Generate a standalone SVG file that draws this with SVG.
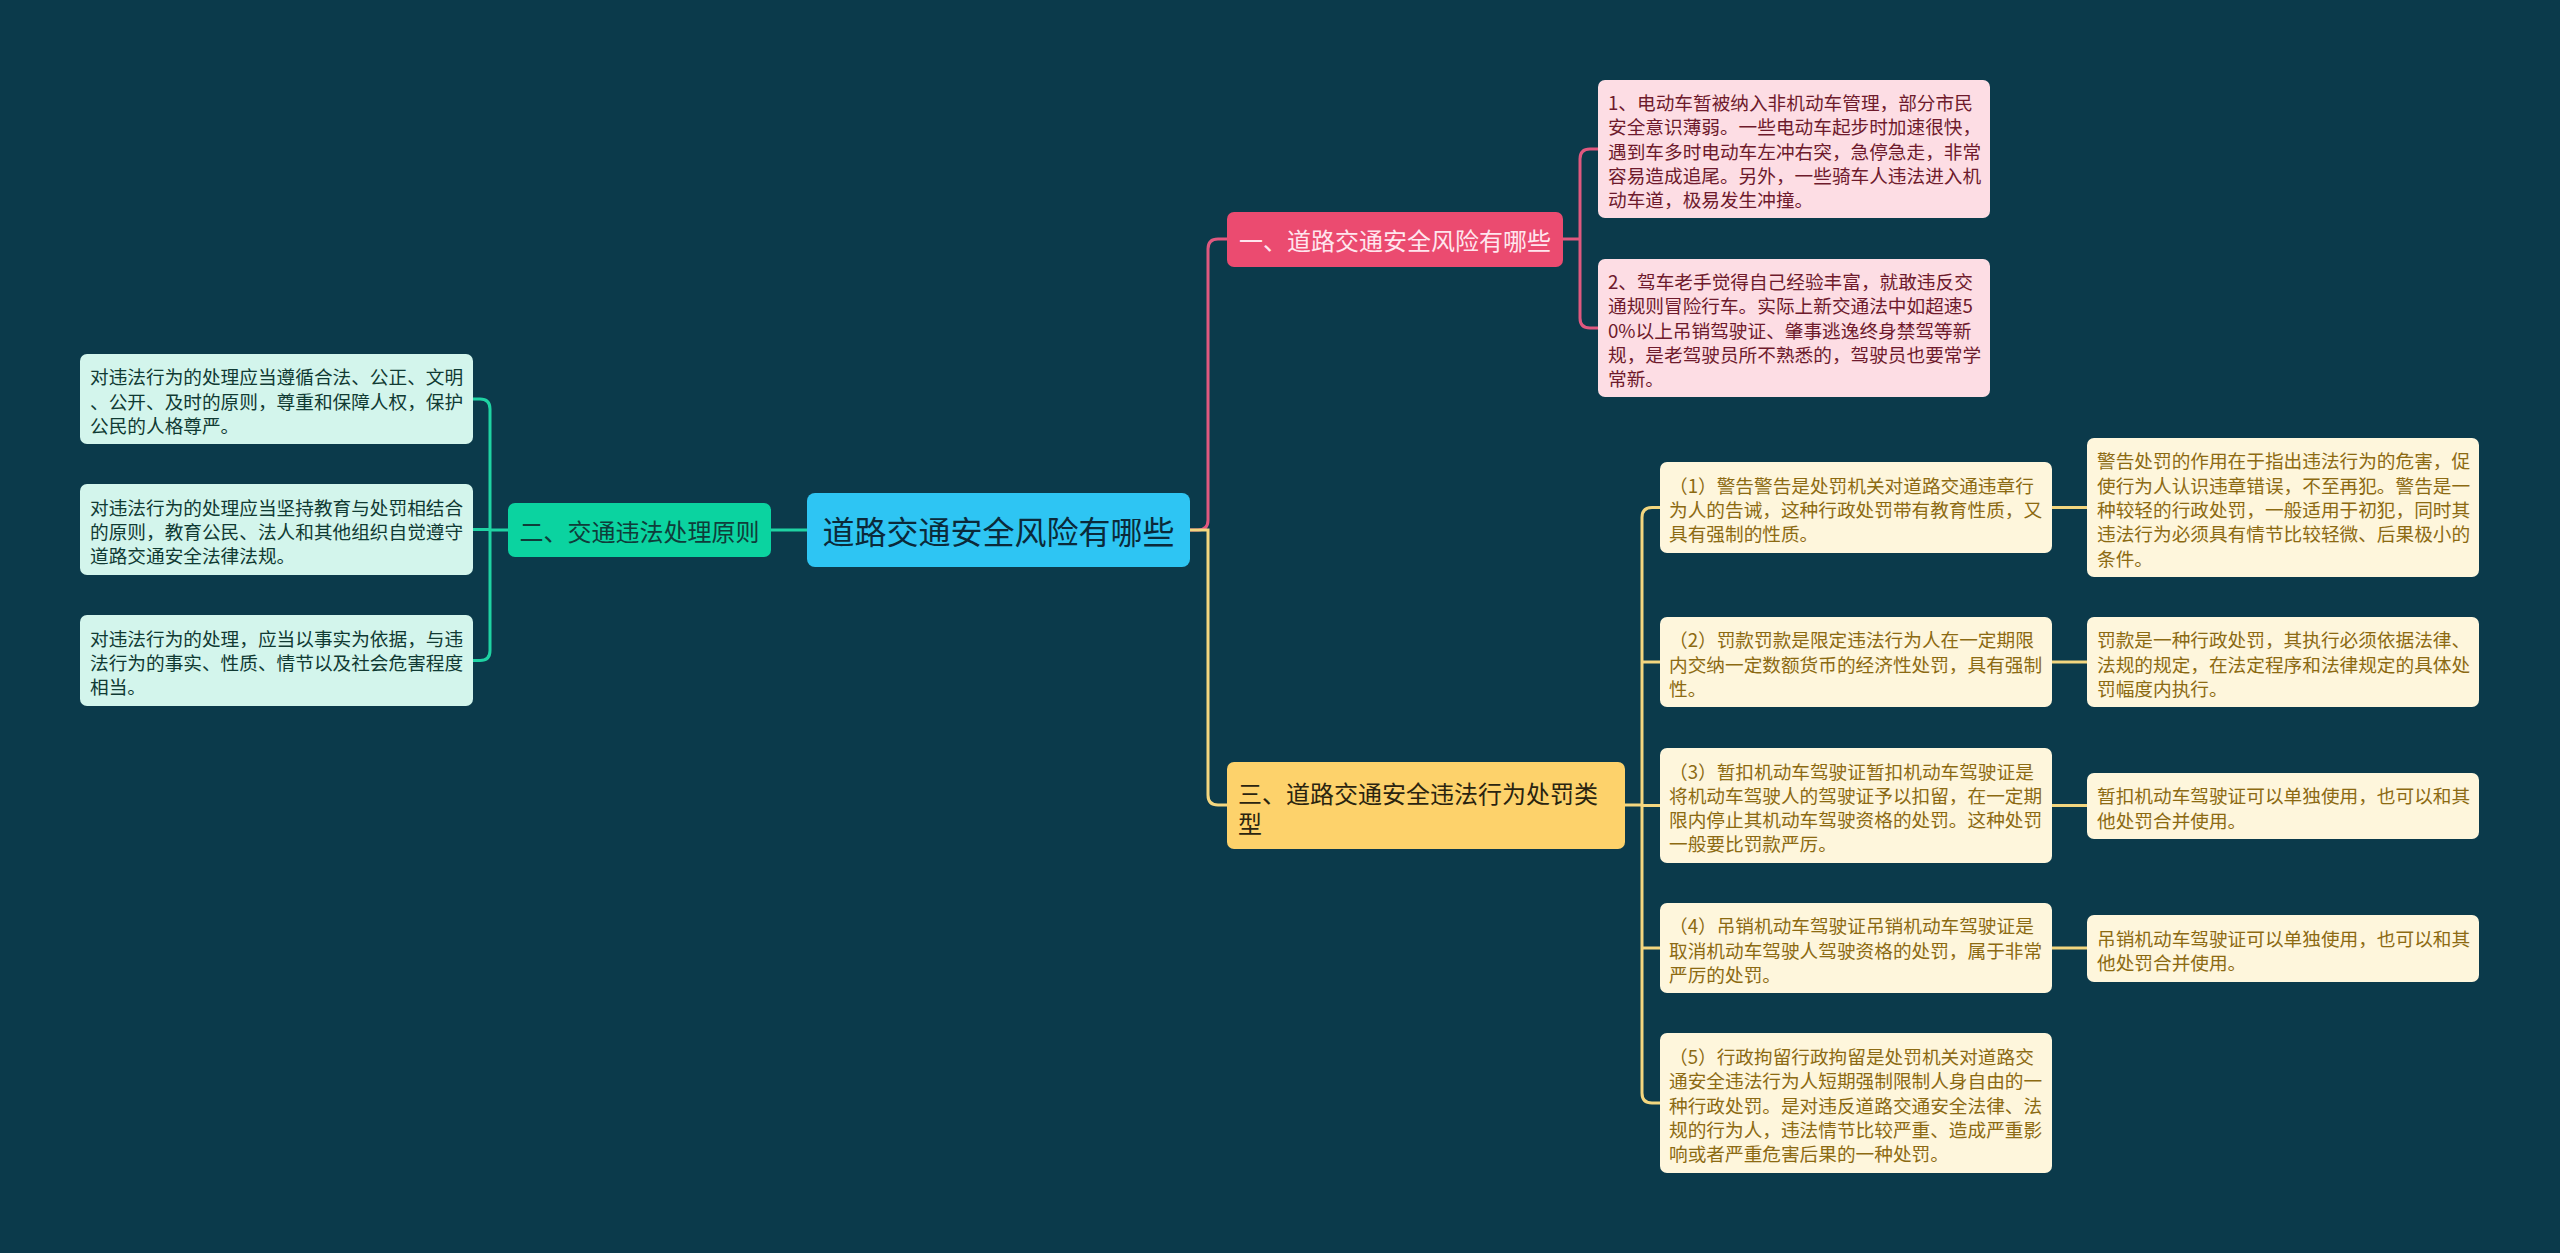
<svg xmlns="http://www.w3.org/2000/svg" width="2560" height="1253" viewBox="0 0 2560 1253">
<style>
text{font-family:"Noto Sans CJK SC","Noto Sans",sans-serif;dominant-baseline:central}
.lf{font-size:18.67px}
.br{font-size:24px}
.cg{fill:none;stroke:#1fd3a3;stroke-width:3}
.cp{fill:none;stroke:#e0587f;stroke-width:3}
.cy{fill:none;stroke:#f3d67f;stroke-width:3}
.gl{fill:#d3f5ec}.gt{fill:#103a33}
.pl{fill:#fddde4}.pt{fill:#6e1a2c}
.yl{fill:#fef6dc}.yt{fill:#8c6a12}
</style>
<rect width="2560" height="1253" fill="#0b3a4b"/>
<g id="connectors">
<path class="cg" d="M771,530 H807"/>
<path class="cg" d="M508,530 H490 M472,399 H480 Q490,399 490,409 V650.5 Q490,660.5 480,660.5 H472 M472,529.5 H490"/>
<path class="cp" d="M1190,530 H1198 Q1208,530 1208,520 V249 Q1208,239 1218,239 H1227"/>
<path class="cp" d="M1563,239 H1580 M1598,149 H1590 Q1580,149 1580,159 V318 Q1580,328 1590,328 H1598"/>
<path class="cy" d="M1190,530 H1208 V795 Q1208,805 1218,805 H1227"/>
<path class="cy" d="M1625,805 H1642 M1660,507.5 H1652 Q1642,507.5 1642,517.5 V1093 Q1642,1103 1652,1103 H1660 M1642,662 H1660 M1642,805.5 H1660 M1642,948 H1660"/>
<path class="cy" d="M2052,507.5 H2087 M2052,662 H2087 M2052,805.5 H2087 M2052,948 H2087"/>
</g>
<g id="root">
<rect x="807" y="493" width="383" height="74" rx="8" fill="#2ec5f3"/>
<text x="998.5" y="530" font-size="32" text-anchor="middle" fill="#0b2a3a">道路交通安全风险有哪些</text>
</g>
<g id="b2">
<rect x="508" y="503" width="263" height="54" rx="7" fill="#0bd3a0"/>
<text class="br" x="639.5" y="530" text-anchor="middle" fill="#0f3d3a">二、交通违法处理原则</text>
</g>
<g id="b1">
<rect x="1227" y="212" width="336" height="55" rx="7" fill="#eb4b70"/>
<text class="br" x="1239" y="239.5" fill="#ffe6ee">一、道路交通安全风险有哪些</text>
</g>
<g id="b3">
<rect x="1227" y="762" width="398" height="87" rx="7" fill="#fdd26b"/>
<text class="br" x="1238" y="792" fill="#2a2410">三、道路交通安全违法行为处罚类</text>
<text class="br" x="1238" y="822" fill="#2a2410">型</text>
</g>
<g id="l1">
<rect class="gl" x="80" y="354" width="393" height="90" rx="7"/>
<text class="lf gt" x="90" y="375.7">对违法行为的处理应当遵循合法、公正、文明</text>
<text class="lf gt" x="90" y="400">、公开、及时的原则，尊重和保障人权，保护</text>
<text class="lf gt" x="90" y="424.3">公民的人格尊严。</text>
</g>
<g id="l2">
<rect class="gl" x="80" y="484" width="393" height="91" rx="7"/>
<text class="lf gt" x="90" y="506.2">对违法行为的处理应当坚持教育与处罚相结合</text>
<text class="lf gt" x="90" y="530.5">的原则，教育公民、法人和其他组织自觉遵守</text>
<text class="lf gt" x="90" y="554.8">道路交通安全法律法规。</text>
</g>
<g id="l3">
<rect class="gl" x="80" y="615" width="393" height="91" rx="7"/>
<text class="lf gt" x="90" y="637.2">对违法行为的处理，应当以事实为依据，与违</text>
<text class="lf gt" x="90" y="661.5">法行为的事实、性质、情节以及社会危害程度</text>
<text class="lf gt" x="90" y="685.8">相当。</text>
</g>
<g id="p1">
<rect class="pl" x="1598" y="80" width="392" height="138" rx="7"/>
<text class="lf pt" x="1608" y="101.4">1、电动车暂被纳入非机动车管理，部分市民</text>
<text class="lf pt" x="1608" y="125.7">安全意识薄弱。一些电动车起步时加速很快，</text>
<text class="lf pt" x="1608" y="150">遇到车多时电动车左冲右突，急停急走，非常</text>
<text class="lf pt" x="1608" y="174.3">容易造成追尾。另外，一些骑车人违法进入机</text>
<text class="lf pt" x="1608" y="198.6">动车道，极易发生冲撞。</text>
</g>
<g id="p2">
<rect class="pl" x="1598" y="259" width="392" height="138" rx="7"/>
<text class="lf pt" x="1608" y="280.4">2、驾车老手觉得自己经验丰富，就敢违反交</text>
<text class="lf pt" x="1608" y="304.7">通规则冒险行车。实际上新交通法中如超速5</text>
<text class="lf pt" x="1608" y="329">0%以上吊销驾驶证、肇事逃逸终身禁驾等新</text>
<text class="lf pt" x="1608" y="353.3">规，是老驾驶员所不熟悉的，驾驶员也要常学</text>
<text class="lf pt" x="1608" y="377.6">常新。</text>
</g>
<g id="y1">
<rect class="yl" x="1660" y="462" width="392" height="91" rx="7"/>
<text class="lf yt" x="1669" y="484.2">（1）警告警告是处罚机关对道路交通违章行</text>
<text class="lf yt" x="1669" y="508.5">为人的告诫，这种行政处罚带有教育性质，又</text>
<text class="lf yt" x="1669" y="532.8">具有强制的性质。</text>
</g>
<g id="r1">
<rect class="yl" x="2087" y="438" width="392" height="139" rx="7"/>
<text class="lf yt" x="2097" y="459.9">警告处罚的作用在于指出违法行为的危害，促</text>
<text class="lf yt" x="2097" y="484.2">使行为人认识违章错误，不至再犯。警告是一</text>
<text class="lf yt" x="2097" y="508.5">种较轻的行政处罚，一般适用于初犯，同时其</text>
<text class="lf yt" x="2097" y="532.8">违法行为必须具有情节比较轻微、后果极小的</text>
<text class="lf yt" x="2097" y="557.1">条件。</text>
</g>
<g id="y2">
<rect class="yl" x="1660" y="617" width="392" height="90" rx="7"/>
<text class="lf yt" x="1669" y="638.7">（2）罚款罚款是限定违法行为人在一定期限</text>
<text class="lf yt" x="1669" y="663">内交纳一定数额货币的经济性处罚，具有强制</text>
<text class="lf yt" x="1669" y="687.3">性。</text>
</g>
<g id="r2">
<rect class="yl" x="2087" y="617" width="392" height="90" rx="7"/>
<text class="lf yt" x="2097" y="638.7">罚款是一种行政处罚，其执行必须依据法律、</text>
<text class="lf yt" x="2097" y="663">法规的规定，在法定程序和法律规定的具体处</text>
<text class="lf yt" x="2097" y="687.3">罚幅度内执行。</text>
</g>
<g id="y3">
<rect class="yl" x="1660" y="748" width="392" height="115" rx="7"/>
<text class="lf yt" x="1669" y="770">（3）暂扣机动车驾驶证暂扣机动车驾驶证是</text>
<text class="lf yt" x="1669" y="794.3">将机动车驾驶人的驾驶证予以扣留，在一定期</text>
<text class="lf yt" x="1669" y="818.6">限内停止其机动车驾驶资格的处罚。这种处罚</text>
<text class="lf yt" x="1669" y="842.9">一般要比罚款严厉。</text>
</g>
<g id="r3">
<rect class="yl" x="2087" y="773" width="392" height="66" rx="7"/>
<text class="lf yt" x="2097" y="794.9">暂扣机动车驾驶证可以单独使用，也可以和其</text>
<text class="lf yt" x="2097" y="819.2">他处罚合并使用。</text>
</g>
<g id="y4">
<rect class="yl" x="1660" y="903" width="392" height="90" rx="7"/>
<text class="lf yt" x="1669" y="924.7">（4）吊销机动车驾驶证吊销机动车驾驶证是</text>
<text class="lf yt" x="1669" y="949">取消机动车驾驶人驾驶资格的处罚，属于非常</text>
<text class="lf yt" x="1669" y="973.3">严厉的处罚。</text>
</g>
<g id="r4">
<rect class="yl" x="2087" y="915" width="392" height="67" rx="7"/>
<text class="lf yt" x="2097" y="937.3">吊销机动车驾驶证可以单独使用，也可以和其</text>
<text class="lf yt" x="2097" y="961.6">他处罚合并使用。</text>
</g>
<g id="y5">
<rect class="yl" x="1660" y="1033" width="392" height="140" rx="7"/>
<text class="lf yt" x="1669" y="1055.4">（5）行政拘留行政拘留是处罚机关对道路交</text>
<text class="lf yt" x="1669" y="1079.7">通安全违法行为人短期强制限制人身自由的一</text>
<text class="lf yt" x="1669" y="1104">种行政处罚。是对违反道路交通安全法律、法</text>
<text class="lf yt" x="1669" y="1128.3">规的行为人，违法情节比较严重、造成严重影</text>
<text class="lf yt" x="1669" y="1152.6">响或者严重危害后果的一种处罚。</text>
</g>
</svg>
